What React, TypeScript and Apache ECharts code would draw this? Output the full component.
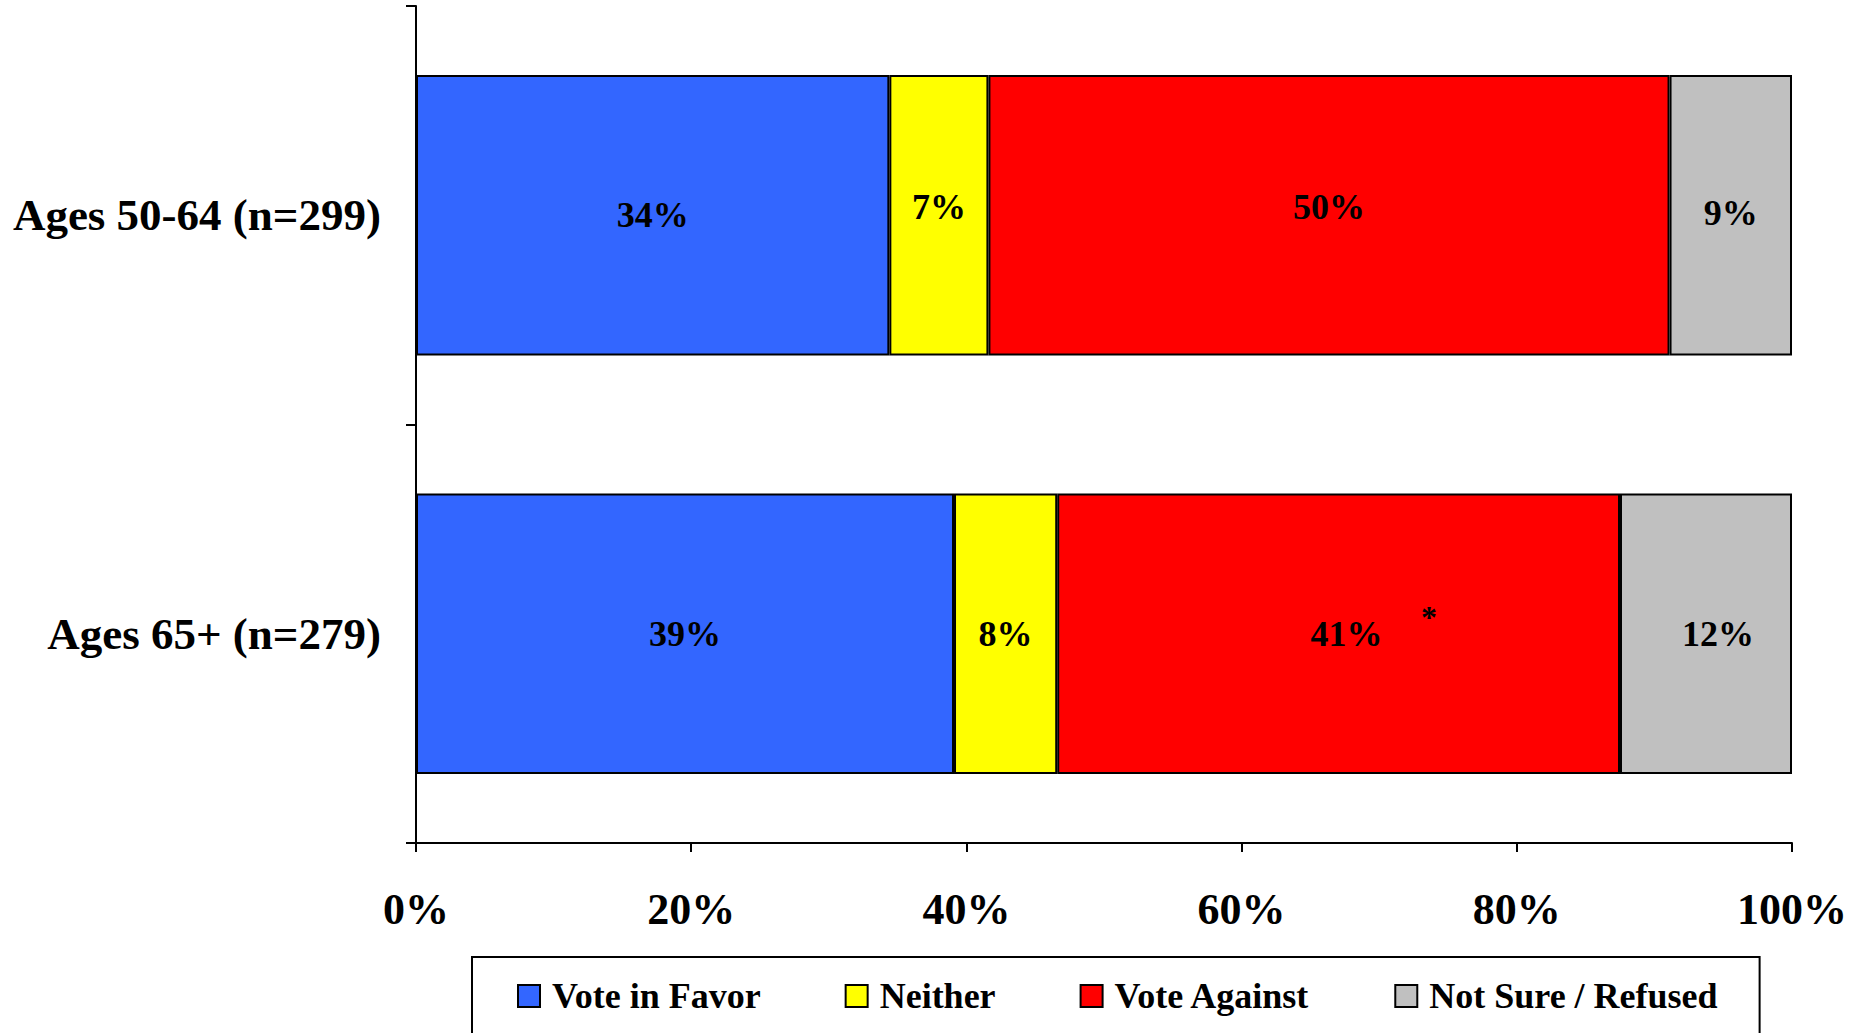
import React, { useEffect, useRef } from "react";
import * as echarts from "echarts";

const categories = ["Ages 50-64 (n=299)", "Ages 65+ (n=279)"];
const seriesNames = ["Vote in Favor", "Neither", "Vote Against", "Not Sure / Refused"];
const voteInFavor = [34.4, 39.1];
const neither = [7.2, 7.5];
const voteAgainst = [49.5, 40.9];
const notSure = [8.9, 12.5];
const favorLabels = ["34%", "39%"];
const neitherLabels = ["7%", "8%"];
const againstLabels = ["50%", "41%"];
const notSureLabels = ["9%", "12%"];
const colors = ["#3366FF", "#FFFF00", "#FF0000", "#C0C0C0"];
const xTicks = [0, 20, 40, 60, 80, 100];

// label nudges (styling only) per series, per category: [dx, dy]
const labelOffsets: number[][][] = [
  [[0, 0], [0, 0]],
  [[0, -8], [0, 0]],
  [[0, -8], [8, 0]],
  [[0, -2], [12, 0]],
];

const FONT = "'Liberation Serif', 'Times New Roman', serif";

export default function App() {
  const ref = useRef<HTMLDivElement>(null);
  useEffect(() => {
    if (!ref.current) return;
    const chart = echarts.init(ref.current, undefined, { renderer: "svg" });
    const values = [voteInFavor, neither, voteAgainst, notSure];
    const labels = [favorLabels, neitherLabels, againstLabels, notSureLabels];
    chart.setOption({
      animation: false,
      backgroundColor: "#ffffff",
      textStyle: { fontFamily: FONT },
      grid: { left: 416, right: 77, top: 6, bottom: 190, containLabel: false },
      legend: {
        data: seriesNames,
        left: 472,
        top: 957,
        orient: "horizontal",
        icon: "rect",
        itemWidth: 22,
        itemHeight: 22,
        itemGap: 84,
        padding: [21, 42, 40, 45],
        borderColor: "#000000",
        borderWidth: 2,
        backgroundColor: "#ffffff",
        itemStyle: { borderColor: "#000000", borderWidth: 2 },
        textStyle: {
          fontFamily: FONT,
          fontWeight: "bold",
          fontSize: 36,
          color: "#000000",
          padding: [0, 0, 0, 7],
        },
      },
      xAxis: {
        type: "value",
        min: 0,
        max: 100,
        interval: 20,
        axisLine: { show: true, lineStyle: { color: "#000000", width: 2 } },
        axisTick: { show: true, length: 9, lineStyle: { color: "#000000", width: 2 } },
        splitLine: { show: false },
        axisLabel: {
          formatter: (v: number) => (xTicks.includes(v) ? `${v}%` : ""),
          fontFamily: FONT,
          fontWeight: "bold",
          fontSize: 44,
          color: "#000000",
          margin: 44,
        },
      },
      yAxis: {
        type: "category",
        data: categories,
        inverse: true,
        axisLine: { show: true, lineStyle: { color: "#000000", width: 2 } },
        axisTick: { show: true, length: 10, lineStyle: { color: "#000000", width: 2 } },
        axisLabel: {
          fontFamily: FONT,
          fontWeight: "bold",
          fontSize: 45,
          color: "#000000",
          margin: 35,
        },
      },
      series: seriesNames.map((name, i) => ({
        name,
        type: "bar",
        stack: "total",
        barWidth: "67%",
        data: values[i].map((v, j) => ({
          value: v,
          label: { offset: labelOffsets[i][j] },
        })),
        itemStyle: { color: colors[i], borderColor: "#000000", borderWidth: 2 },
        label: {
          show: true,
          position: "inside",
          formatter: (p: any) => labels[i][p.dataIndex],
          fontFamily: FONT,
          fontWeight: "bold",
          fontSize: 36,
          color: "#000000",
        },
      })),
      graphic: [
        {
          type: "text",
          left: 1421,
          top: 601,
          z: 100,
          style: { text: "*", fontFamily: FONT, fontWeight: "bold", fontSize: 32, fill: "#000000" },
        },
      ],
    });
    return () => chart.dispose();
  }, []);
  return (
    <div
      ref={ref}
      style={{ position: "fixed", left: 0, top: 0, width: 1869, height: 1033 }}
    />
  );
}
